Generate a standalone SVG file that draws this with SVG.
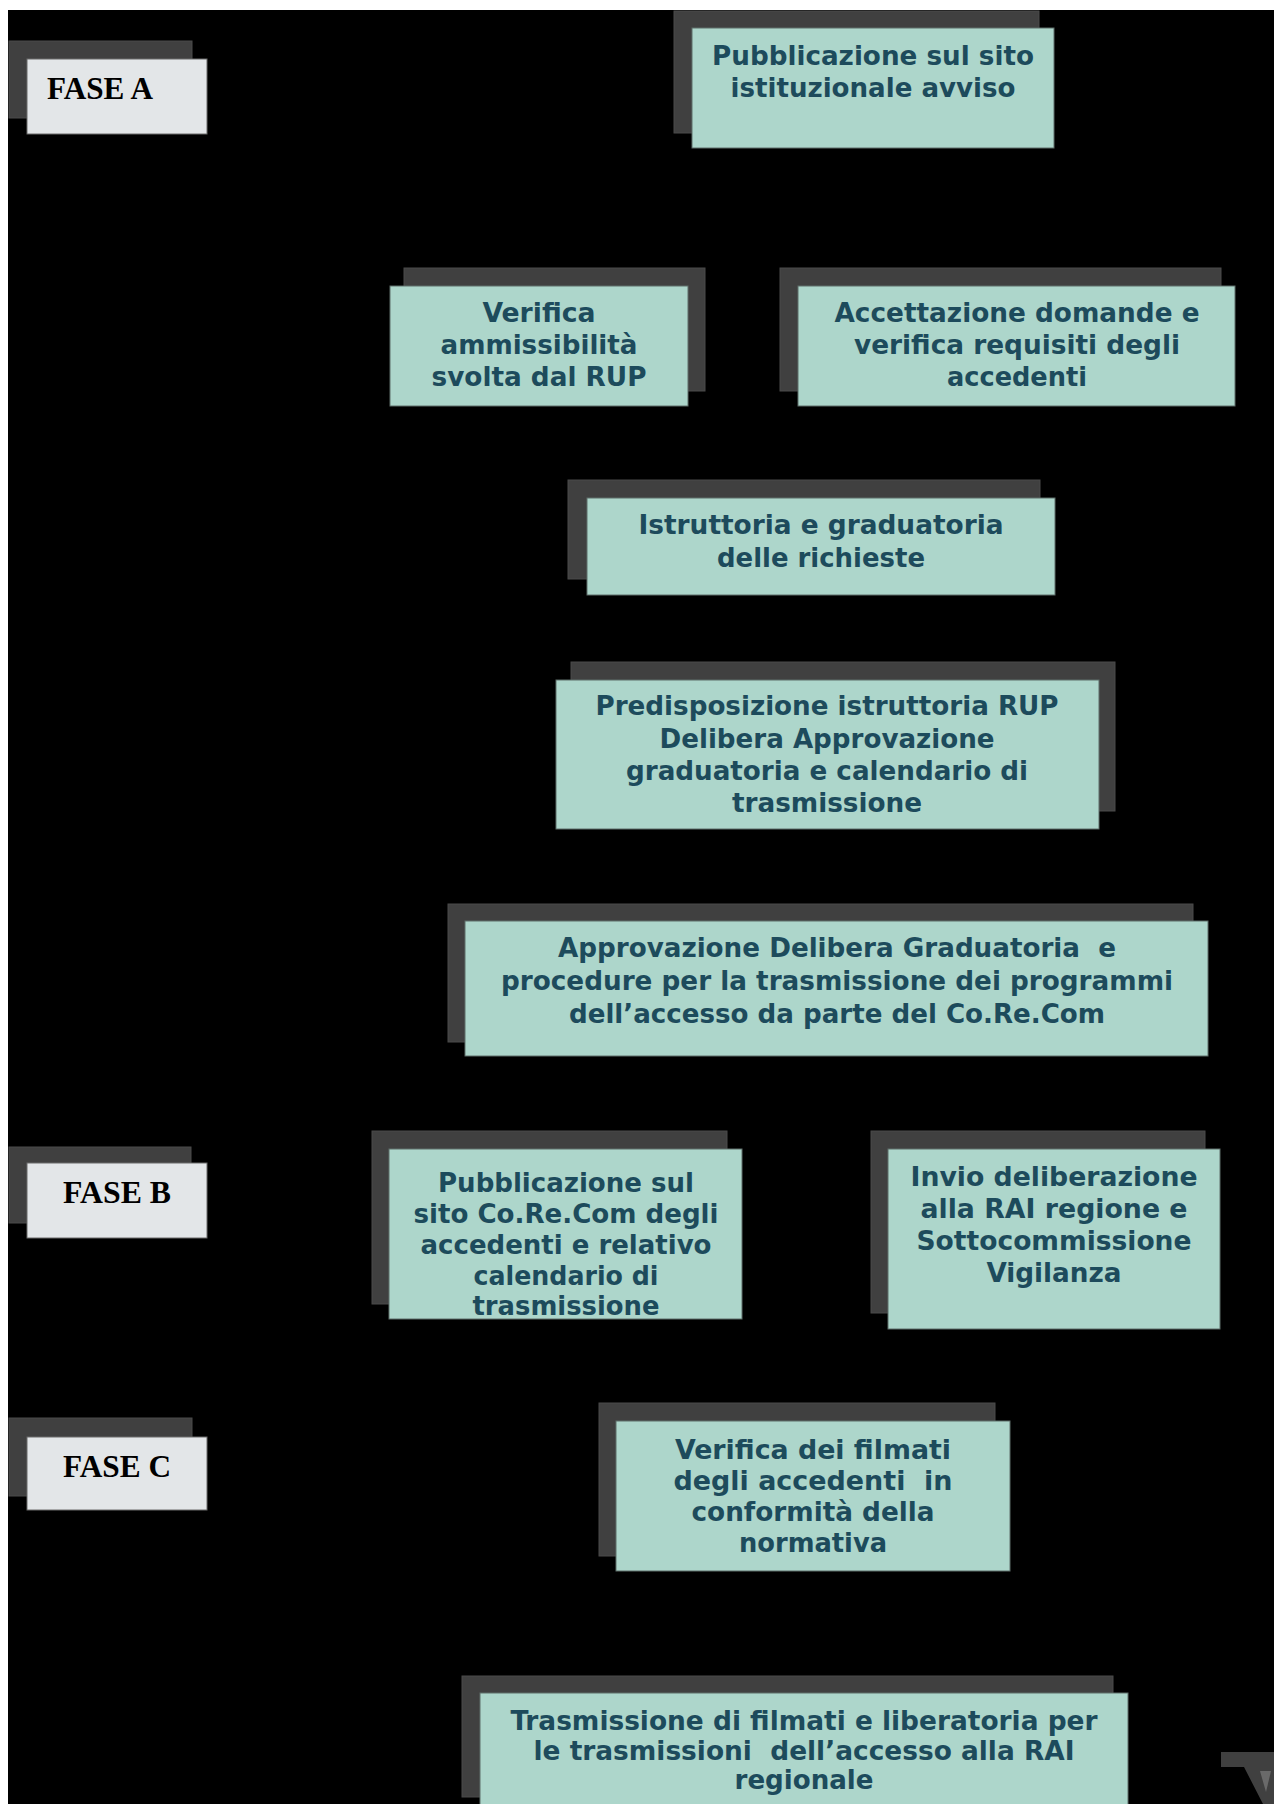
<svg xmlns="http://www.w3.org/2000/svg" width="1274" height="1804" viewBox="0 0 1274 1804">
<style>
.sh{fill:#404040;stroke:#4a4a4a;stroke-width:1}
.bx{fill:#add6cb;stroke:#5f6e6a;stroke-width:1}
.fb{fill:#e3e6e8;stroke:#6a6a6a;stroke-width:1}
.t{font-family:'DejaVu Sans Condensed','DejaVu Sans',Verdana,sans-serif;font-weight:bold;font-size:27px;fill:#1d4b5c;text-anchor:middle;white-space:pre}
.f{font-family:'Liberation Serif','Times New Roman',serif;font-weight:bold;font-size:31px;fill:#000}
</style>
<rect x="0" y="0" width="1274" height="1804" fill="#ffffff"/>
<rect x="8" y="10" width="1266" height="1794" fill="#000000"/>
<g id="connectors"></g>
<g id="fase-a">
<rect class="sh" x="9" y="41" width="183" height="77"/>
<rect class="fb" x="27" y="59" width="180" height="75"/>
<text class="f" x="47" y="99" textLength="106" lengthAdjust="spacingAndGlyphs">FASE A</text>
</g>
<g id="n-pubblicazione-avviso">
<rect class="sh" x="674" y="11" width="365" height="122"/>
<rect class="bx" x="692" y="28" width="362" height="120"/>
<text class="t" x="873" y="65" textLength="322" lengthAdjust="spacingAndGlyphs">Pubblicazione sul sito</text>
<text class="t" x="873" y="97" textLength="285" lengthAdjust="spacingAndGlyphs">istituzionale avviso</text>
</g>
<g id="n-verifica-ammissibilita">
<rect class="sh" x="404" y="268" width="301" height="123"/>
<rect class="bx" x="390" y="286" width="298" height="120"/>
<text class="t" x="539" y="322" textLength="113" lengthAdjust="spacingAndGlyphs">Verifica</text>
<text class="t" x="539" y="354" textLength="197" lengthAdjust="spacingAndGlyphs">ammissibilità</text>
<text class="t" x="539" y="386" textLength="215" lengthAdjust="spacingAndGlyphs">svolta dal RUP</text>
</g>
<g id="n-accettazione">
<rect class="sh" x="780" y="268" width="441" height="123"/>
<rect class="bx" x="798" y="286" width="437" height="120"/>
<text class="t" x="1017" y="322" textLength="365" lengthAdjust="spacingAndGlyphs">Accettazione domande e</text>
<text class="t" x="1017" y="354" textLength="326" lengthAdjust="spacingAndGlyphs">verifica requisiti degli</text>
<text class="t" x="1017" y="386" textLength="140" lengthAdjust="spacingAndGlyphs">accedenti</text>
</g>
<g id="n-istruttoria">
<rect class="sh" x="568" y="480" width="472" height="99"/>
<rect class="bx" x="587" y="498" width="468" height="97"/>
<text class="t" x="821" y="534" textLength="365" lengthAdjust="spacingAndGlyphs">Istruttoria e graduatoria</text>
<text class="t" x="821" y="567" textLength="208" lengthAdjust="spacingAndGlyphs">delle richieste</text>
</g>
<g id="n-predisposizione">
<rect class="sh" x="571" y="662" width="544" height="149"/>
<rect class="bx" x="556" y="680" width="543" height="149"/>
<text class="t" x="827" y="715" textLength="463" lengthAdjust="spacingAndGlyphs">Predisposizione istruttoria RUP</text>
<text class="t" x="827" y="748" textLength="335" lengthAdjust="spacingAndGlyphs">Delibera Approvazione</text>
<text class="t" x="827" y="780" textLength="402" lengthAdjust="spacingAndGlyphs">graduatoria e calendario di</text>
<text class="t" x="827" y="812" textLength="190" lengthAdjust="spacingAndGlyphs">trasmissione</text>
</g>
<g id="n-approvazione">
<rect class="sh" x="448" y="904" width="745" height="138"/>
<rect class="bx" x="465" y="921" width="743" height="135"/>
<text class="t" x="837" y="957" textLength="558" lengthAdjust="spacingAndGlyphs">Approvazione Delibera Graduatoria  e</text>
<text class="t" x="837" y="990" textLength="672" lengthAdjust="spacingAndGlyphs">procedure per la trasmissione dei programmi</text>
<text class="t" x="837" y="1023" textLength="536" lengthAdjust="spacingAndGlyphs">dell’accesso da parte del Co.Re.Com</text>
</g>
<g id="fase-b">
<rect class="sh" x="9" y="1147" width="182" height="76"/>
<rect class="fb" x="27" y="1163" width="180" height="75"/>
<text class="f" x="63" y="1203" textLength="108" lengthAdjust="spacingAndGlyphs">FASE B</text>
</g>
<g id="n-pubblicazione-corecom">
<rect class="sh" x="372" y="1131" width="355" height="173"/>
<rect class="bx" x="389" y="1149" width="353" height="170"/>
<text class="t" x="566" y="1192" textLength="256" lengthAdjust="spacingAndGlyphs">Pubblicazione sul</text>
<text class="t" x="566" y="1223" textLength="305" lengthAdjust="spacingAndGlyphs">sito Co.Re.Com degli</text>
<text class="t" x="566" y="1254" textLength="291" lengthAdjust="spacingAndGlyphs">accedenti e relativo</text>
<text class="t" x="566" y="1285" textLength="185" lengthAdjust="spacingAndGlyphs">calendario di</text>
<text class="t" x="566" y="1315" textLength="187" lengthAdjust="spacingAndGlyphs">trasmissione</text>
</g>
<g id="n-invio">
<rect class="sh" x="871" y="1131" width="334" height="182"/>
<rect class="bx" x="888" y="1149" width="332" height="180"/>
<text class="t" x="1054" y="1186" textLength="287" lengthAdjust="spacingAndGlyphs">Invio deliberazione</text>
<text class="t" x="1054" y="1218" textLength="267" lengthAdjust="spacingAndGlyphs">alla RAI regione e</text>
<text class="t" x="1054" y="1250" textLength="275" lengthAdjust="spacingAndGlyphs">Sottocommissione</text>
<text class="t" x="1054" y="1282" textLength="135" lengthAdjust="spacingAndGlyphs">Vigilanza</text>
</g>
<g id="fase-c">
<rect class="sh" x="9" y="1418" width="183" height="78"/>
<rect class="fb" x="27" y="1437" width="180" height="73"/>
<text class="f" x="63" y="1477" textLength="108" lengthAdjust="spacingAndGlyphs">FASE C</text>
</g>
<g id="n-verifica-filmati">
<rect class="sh" x="599" y="1403" width="396" height="153"/>
<rect class="bx" x="616" y="1421" width="394" height="150"/>
<text class="t" x="813" y="1459" textLength="276" lengthAdjust="spacingAndGlyphs">Verifica dei filmati</text>
<text class="t" x="813" y="1490" textLength="279" lengthAdjust="spacingAndGlyphs">degli accedenti  in</text>
<text class="t" x="813" y="1521" textLength="243" lengthAdjust="spacingAndGlyphs">conformità della</text>
<text class="t" x="813" y="1552" textLength="148" lengthAdjust="spacingAndGlyphs">normativa</text>
</g>
<g id="n-trasmissione">
<rect class="sh" x="462" y="1676" width="651" height="121"/>
<rect class="bx" x="480" y="1693" width="648" height="120"/>
<text class="t" x="804" y="1730" textLength="587" lengthAdjust="spacingAndGlyphs">Trasmissione di filmati e liberatoria per</text>
<text class="t" x="804" y="1760" textLength="541" lengthAdjust="spacingAndGlyphs">le trasmissioni  dell’accesso alla RAI</text>
<text class="t" x="804" y="1789" textLength="139" lengthAdjust="spacingAndGlyphs">regionale</text>
</g>
<g id="partial-shape">
<polygon points="1221,1752 1274,1752 1274,1804 1263,1804 1244,1767 1221,1767" fill="#404040"/>
<polygon points="1260,1771 1271,1771 1266,1792" fill="#6a6a6a"/>
</g>
</svg>
